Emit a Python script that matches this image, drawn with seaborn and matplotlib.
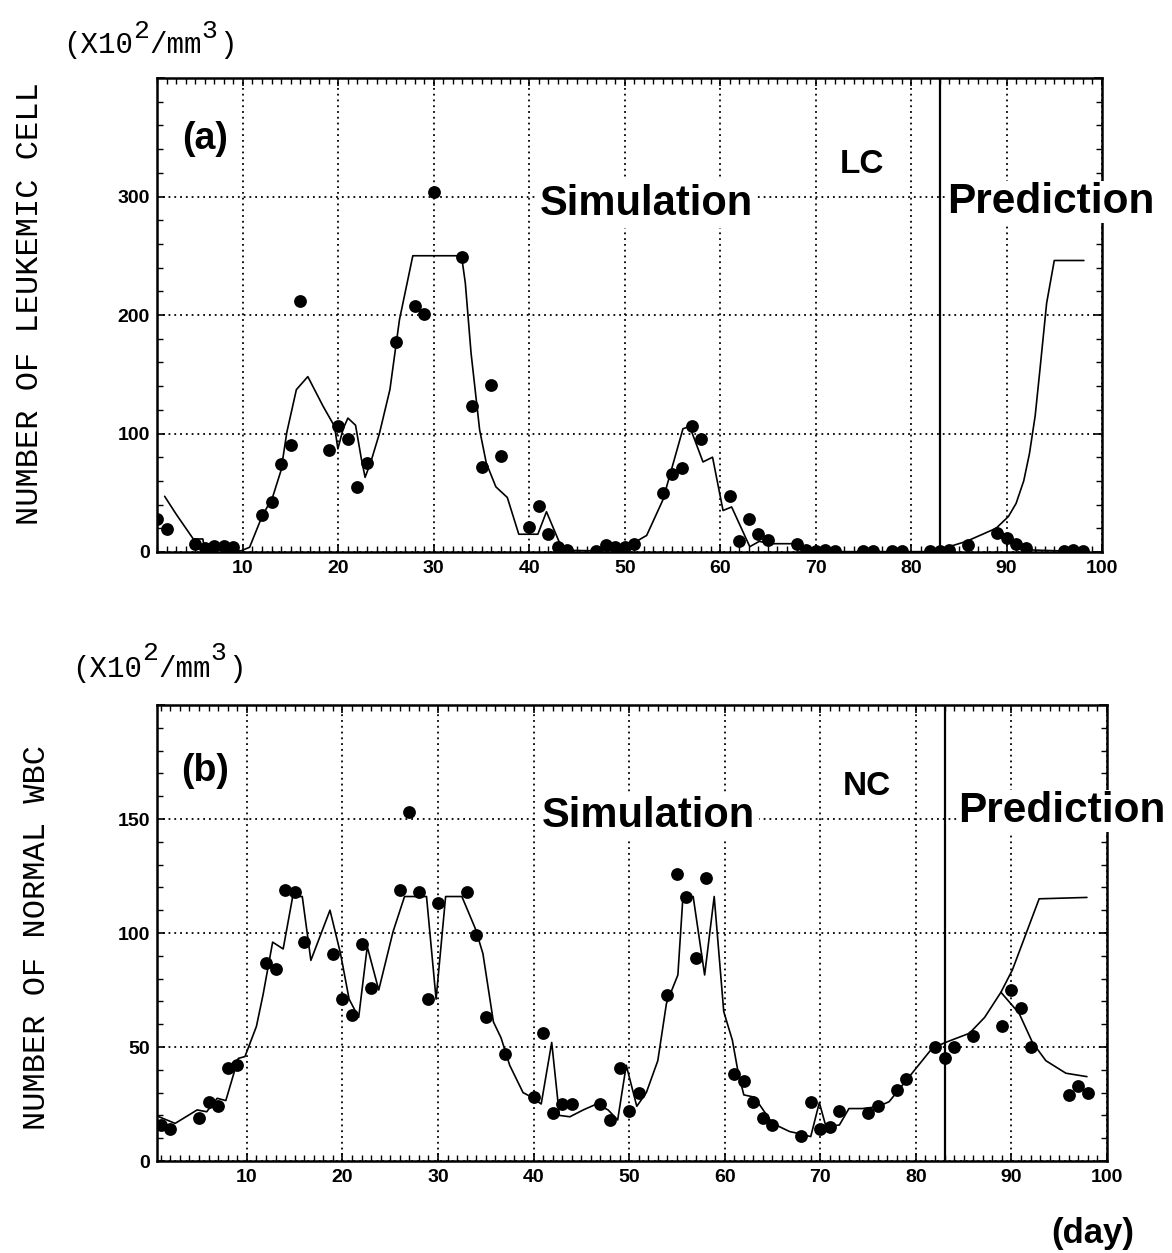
import numpy as np
import pandas as pd
import seaborn as sns
import matplotlib
matplotlib.use("Agg")
import matplotlib.pyplot as plt
from matplotlib.ticker import MultipleLocator

# ---------------- data ----------------
# (a) leukemic cells: observed points
lc_days = [1, 2, 5, 6, 7, 8, 9, 12, 13, 14, 15, 16, 19, 20, 21, 22, 23, 26, 28, 29, 30,
           33, 34, 35, 36, 37, 40, 41, 42, 43, 44, 47, 48, 49, 50, 51, 54, 55, 56, 57, 58,
           61, 62, 63, 64, 65, 68, 69, 70, 71, 72, 75, 76, 78, 79, 82, 83, 84, 86,
           89, 90, 91, 92, 96, 97, 98]
lc_vals = [28, 19, 7, 3, 5, 5, 4, 31, 42, 74, 90, 212, 86, 106, 95, 55, 75, 177, 208, 201, 304,
           249, 123, 72, 141, 81, 21, 39, 15, 4, 2, 1, 6, 4, 4, 7, 50, 66, 71, 106, 95,
           47, 9, 28, 15, 10, 7, 2, 1, 2, 1, 0.5, 0.5, 0.5, 0.5, 0.5, 0.5, 1.5, 6,
           16, 12, 7, 3, 0.5, 2, 0.5]
# (a) simulation curve
lc_sim_x = [1.8, 3.0, 4.8, 5.8, 6.0, 9.8, 10.7, 12.0, 13.1, 14.0, 14.6, 15.6, 16.8, 18.4, 19.6,
            19.95, 20.5, 21.0, 21.8, 22.4, 22.8, 23.4, 24.3, 25.4, 26.4, 27.8, 32.9, 33.3, 33.9,
            34.8, 35.5, 36.5, 37.7, 38.9, 40.9, 41.8, 43.5, 47.0, 50.8, 52.3, 54.0, 56.1, 56.8,
            58.2, 59.2, 60.3, 61.2, 63.1, 64.1, 65.2, 68.3, 69.4, 72.9, 82.3, 85.8, 88.9, 90.6,
            92.7, 98.1]
lc_sim_y = [47, 32, 11, 11, 2, 1, 4, 30, 46, 69, 101, 137, 148, 123, 106,
            87, 104, 113, 107, 79, 63, 76, 100, 137, 196, 250, 250, 227, 168,
            103, 75, 55, 46, 15, 15, 34, 1.5, 1, 7, 14, 44, 104, 106,
            76, 80, 35, 38, 4.5, 9, 7, 7, 1.7, 0.3, 0.3, 9, 20, 10,
            1.7, 0.3]
# (a) prediction curve
lc_pred_x = [88.9, 90.2, 91.0, 91.8, 92.4, 93.0, 93.5, 94.2, 95.0, 98.1]
lc_pred_y = [20, 30, 41, 60, 83, 115, 154, 210, 246, 246]

# (b) normal WBC: observed points
nc_days = [1, 2, 5, 6, 7, 8, 9, 12, 13, 14, 15, 16, 19, 20, 21, 22, 23, 26, 27, 28, 29, 30,
           33, 34, 35, 37, 40, 41, 42, 43, 44, 47, 48, 49, 50, 51, 54, 55, 56, 57, 58,
           61, 62, 63, 64, 65, 68, 69, 70, 71, 72, 75, 76, 78, 79, 82, 83, 84, 86,
           89, 90, 91, 92, 96, 97, 98]
nc_vals = [16, 14, 19, 26, 24, 41, 42, 87, 84, 119, 118, 96, 91, 71, 64, 95, 76, 119, 153, 118, 71, 113,
           118, 99, 63, 47, 28, 56, 21, 25, 25, 25, 18, 41, 22, 30, 73, 126, 116, 89, 124,
           38, 35, 26, 19, 16, 11, 26, 14, 15, 22, 21, 24, 31, 36, 50, 45, 50, 55,
           59, 75, 67, 50, 29, 33, 30]
# (b) simulation curve
nc_sim_x = [0.8, 2.5, 4.8, 5.8, 6.9, 7.8, 9.1, 9.8, 11.0, 11.7, 12.7, 13.8, 14.8, 15.8, 16.7,
            18.7, 19.8, 20.7, 21.7, 22.6, 23.8, 25.3, 26.5, 28.8, 29.8, 30.8, 32.5, 33.9, 34.7,
            35.8, 36.6, 37.5, 38.9, 39.8, 40.8, 41.9, 42.7, 43.8, 45.2, 46.6, 47.8, 48.8, 49.7,
            50.8, 51.8, 53.0, 53.9, 55.1, 55.6, 56.7, 57.9, 58.9, 59.9, 60.8, 61.4, 62.0, 63.1,
            65.0, 66.8, 67.8, 69.0, 69.9, 70.6, 72.0, 73.0, 74.4, 76.0, 77.2, 79.7, 81.7, 83.1,
            85.6, 87.2, 88.9, 90.8, 92.2, 93.6, 95.7, 97.9]
nc_sim_y = [19.4, 16.5, 22.4, 21.6, 27.5, 26.5, 45, 45.8, 59, 73, 96, 93, 116, 116, 88,
            110, 91, 71, 63, 94, 75, 100.6, 116, 116, 71, 116, 116, 102, 91,
            61, 54, 42, 30, 28, 25, 52, 20, 19.4, 22.4, 25, 22.4, 18, 42,
            24, 30, 44, 69, 81.6, 114, 116, 81.6, 116, 65.5, 53, 39, 29, 28,
            16.5, 12.9, 12, 10.7, 25.6, 15, 15.8, 23, 23, 23.8, 26, 39, 49.4, 52,
            56, 63, 74, 64.8, 52, 44, 38.5, 37]
# (b) prediction curve
nc_pred_x = [88.9, 90.1, 92.9, 97.9]
nc_pred_y = [74, 83.8, 115, 115.6]

split_day = 83

# ---------------- style ----------------
sns.set_theme(style="white")
plt.rcParams.update({
    "font.family": ["Liberation Sans", "DejaVu Sans"],
    "text.color": "black",
    "axes.edgecolor": "black",
    "xtick.color": "black",
    "ytick.color": "black",
    "xtick.labelcolor": "black",
    "ytick.labelcolor": "black",
})

W, H = 1172, 1253
fig = plt.figure(figsize=(W / 100, H / 100), dpi=100)
fig.patch.set_facecolor("white")


def rect(l, t, r, b):
    return [l / W, 1 - b / H, (r - l) / W, (b - t) / H]


def fx(x):
    return x / W


def fy(y):
    return 1 - y / H


axA = fig.add_axes(rect(157, 78, 1102, 552))
axB = fig.add_axes(rect(157, 705, 1107, 1161))

panels = [
    (axA, lc_days, lc_vals, lc_sim_x, lc_sim_y, lc_pred_x, lc_pred_y, (1, 100), (0, 400),
     [0, 100, 200, 300, 400], ["0", "100", "200", "300", ""], 20),
    (axB, nc_days, nc_vals, nc_sim_x, nc_sim_y, nc_pred_x, nc_pred_y, (0.6, 100), (0, 200),
     [0, 50, 100, 150, 200], ["0", "50", "100", "150", ""], 10),
]

for ax, dd, dv, sx, sy, px, py, xl, yl, yt, ytl, ymin in panels:
    ax.set_facecolor("white")
    sns.lineplot(x=sx, y=sy, ax=ax, color="black", linewidth=1.2,
                 sort=False, estimator=None, zorder=3)
    sns.lineplot(x=px, y=py, ax=ax, color="black", linewidth=1.2,
                 sort=False, estimator=None, zorder=3)
    sns.scatterplot(x=dd, y=dv, ax=ax, color="black", s=85, linewidth=0, zorder=4)
    ax.axvline(split_day, color="black", linewidth=1.6, zorder=3)
    ax.set_xlim(*xl)
    ax.set_ylim(*yl)
    ax.set_xticks(list(range(10, 101, 10)))
    ax.set_xticklabels([str(v) for v in range(10, 101, 10)])
    ax.set_yticks(yt)
    ax.set_yticklabels(ytl)
    ax.xaxis.set_minor_locator(MultipleLocator(1))
    ax.yaxis.set_minor_locator(MultipleLocator(ymin))
    ax.grid(True, which="major", color="black", linestyle=(0, (1, 2.2)), linewidth=1.3, zorder=1)
    ax.set_axisbelow(True)
    ax.tick_params(which="both", direction="in", top=True, right=True, bottom=True, left=True,
                   color="black", labelcolor="black")
    ax.tick_params(which="major", length=6, width=1.2)
    ax.tick_params(which="minor", length=4, width=1.0)
    ax.tick_params(axis="x", pad=6)
    ax.tick_params(axis="y", pad=5)
    for lab in ax.get_xticklabels() + ax.get_yticklabels():
        lab.set_fontweight("bold")
        lab.set_fontsize(14)
        lab.set_family("Liberation Sans")
    for sp in ax.spines.values():
        sp.set_linewidth(1.8)
        sp.set_color("black")
    ax.set_xlabel("")
    ax.set_ylabel("")

white = dict(facecolor="white", edgecolor="none", pad=3)
white_s = dict(facecolor="white", edgecolor="none", pad=1)

# panel (a) texts
fig.text(fx(205), fy(139), "(a)", ha="center", va="center", fontsize=27, fontweight="bold")
fig.text(fx(540), fy(215), "Simulation", ha="left", va="baseline", fontsize=30,
         fontweight="bold", bbox=white)
fig.text(fx(840), fy(173), "LC", ha="left", va="baseline", fontsize=24, fontweight="bold")
fig.text(fx(947), fy(213), "Prediction", ha="left", va="baseline", fontsize=30.5,
         fontweight="bold", bbox=white_s)

# panel (b) texts
fig.text(fx(205), fy(771), "(b)", ha="center", va="center", fontsize=27, fontweight="bold")
fig.text(fx(542), fy(827), "Simulation", ha="left", va="baseline", fontsize=30,
         fontweight="bold", bbox=white)
fig.text(fx(843), fy(795), "NC", ha="left", va="baseline", fontsize=24, fontweight="bold")
fig.text(fx(958), fy(822), "Prediction", ha="left", va="baseline", fontsize=30.5,
         fontweight="bold", bbox=white_s)

# axis titles
mono = "Liberation Mono"
fig.text(fx(30), fy(304), "NUMBER OF LEUKEMIC CELL", rotation=90, ha="center", va="center",
         fontsize=23, family=mono)
fig.text(fx(37), fy(938), "NUMBER OF NORMAL WBC", rotation=90, ha="center", va="center",
         fontsize=23, family=mono)


# units label (X10^2/mm^3) built from pieces so the exponents stay large
def units(x0, base, sup_base):
    fig.text(fx(x0), fy(base), "(X10", ha="left", va="baseline", fontsize=21, family=mono)
    fig.text(fx(x0 + 70), fy(sup_base), "2", ha="left", va="baseline", fontsize=19, family=mono)
    fig.text(fx(x0 + 86), fy(base), "/mm", ha="left", va="baseline", fontsize=21, family=mono)
    fig.text(fx(x0 + 138), fy(sup_base), "3", ha="left", va="baseline", fontsize=19, family=mono)
    fig.text(fx(x0 + 156), fy(base), ")", ha="left", va="baseline", fontsize=21, family=mono)


units(63, 53, 38)
units(72, 677, 660)

fig.text(fx(1093), fy(1233), "(day)", ha="center", va="center", fontsize=25, fontweight="bold")

fig.savefig("out.png", dpi=100, facecolor="white")
